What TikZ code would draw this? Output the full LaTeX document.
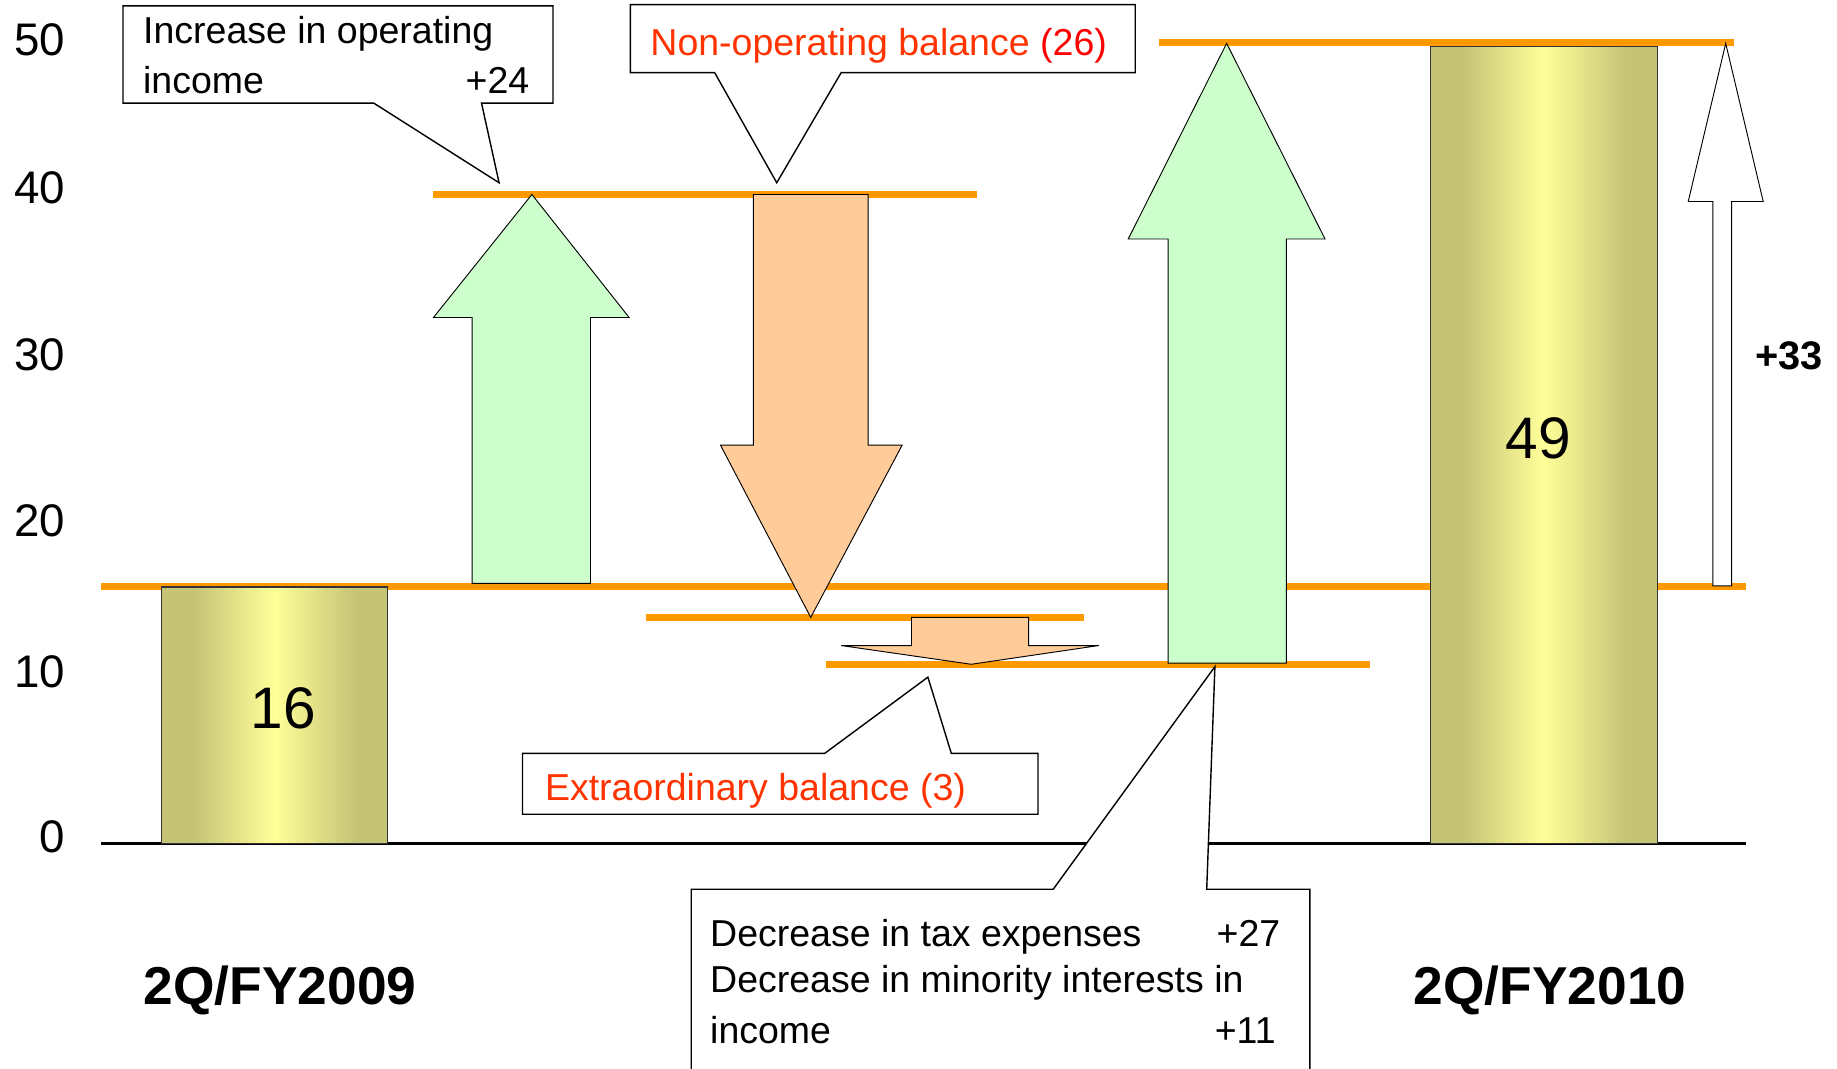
\documentclass[tikz,border=0pt]{standalone}
\usepackage{fontspec}
\setmainfont{Liberation Sans}
\definecolor{lvorange}{RGB}{255,153,0}
\definecolor{upgreen}{RGB}{204,255,204}
\definecolor{downpeach}{RGB}{255,204,153}
\definecolor{txtorange}{RGB}{255,51,0}
\definecolor{barolive}{RGB}{197,195,118}
\definecolor{baryellow}{RGB}{255,255,153}
\pgfdeclarehorizontalshading{barshade}{100bp}{color(0bp)=(barolive); color(25bp)=(barolive); color(32bp)=(barolive); color(50bp)=(baryellow); color(68bp)=(barolive); color(75bp)=(barolive); color(100bp)=(barolive)}
\begin{document}
\begin{tikzpicture}[x=1pt,y=-1pt,
  lvline/.style={draw=lvorange,line width=6pt},
  axisline/.style={draw=black,line width=2.2pt},
  barbox/.style={shading=barshade,draw=black!80,line width=1pt},
  uparrow/.style={fill=upgreen,draw=black,line width=0.8pt,line join=miter},
  downarrow/.style={fill=downpeach,draw=black,line width=0.8pt,line join=miter},
  hollowarrow/.style={fill=white,draw=black,line width=0.8pt,line join=miter},
  callout/.style={fill=white,draw=black,line width=1.2pt,line join=miter},
  txt/.style={font=\fontsize{32}{41}\selectfont,inner sep=0pt},
  axlab/.style={font=\fontsize{39}{45}\selectfont,inner sep=0pt,anchor=base east},
  barlab/.style={font=\fontsize{50}{56}\selectfont,inner sep=0pt,anchor=base},
  catlab/.style={font=\fontsize{45.5}{50}\selectfont\bfseries,inner sep=0pt,anchor=base}]
\useasboundingbox (0,0) rectangle (1568,912);
\clip (0,0) rectangle (1568,912);

% level lines
\draw[lvline] (989,36.5) -- (1480,36.5);
\draw[lvline] (370,166) -- (834,166);
\draw[lvline] (86,501) -- (1490,501);
\draw[lvline] (551,527) -- (925,527);
\draw[lvline] (705,567) -- (1169,567);

% baseline
\draw[axisline] (86,720) -- (1490,720);

% bars
\draw[barbox] (138,501) rectangle (331,720);
\draw[barbox] (1221,40) rectangle (1415,720);

% change arrows
\draw[uparrow] (403,498) -- (403,271) -- (370,271) -- (454,166) -- (537,271) -- (504,271) -- (504,498) -- cycle;
\draw[downarrow] (643,166) -- (741,166) -- (741,380) -- (770,380) -- (692,527) -- (615,380) -- (643,380) -- cycle;
\draw[downarrow] (778,527) -- (878,527) -- (878,551) -- (938,551) -- (829,567) -- (718,551) -- (778,551) -- cycle;
\draw[uparrow] (997,566) -- (997,204) -- (963,204) -- (1047,37) -- (1131,204) -- (1098,204) -- (1098,566) -- cycle;
\draw[hollowarrow] (1462,500) -- (1462,172) -- (1441,172) -- (1473,37) -- (1505,172) -- (1478,172) -- (1478,500) -- cycle;

% callouts
\draw[callout] (105,5) -- (472,5) -- (472,88) -- (411,88) -- (426,156) -- (319,88) -- (105,88) -- cycle;
\draw[callout] (538,4) -- (969,4) -- (969,62) -- (718,62) -- (663,156) -- (610,62) -- (538,62) -- cycle;
\draw[callout] (446,643) -- (704,643) -- (792,578) -- (812,643) -- (886,643) -- (886,695) -- (446,695) -- cycle;
\draw[callout] (590,759) -- (899,759) -- (1037,569) -- (1030,759) -- (1118,759) -- (1118,930) -- (590,930) -- cycle;

% axis labels
\node[axlab] (y50) at (56,47) {50};
\node[axlab] (y40) at (56,174) {40};
\node[axlab] (y30) at (56,316) {30};
\node[axlab] (y20) at (56,458) {20};
\node[axlab] (y10) at (56,587) {10};
\node[axlab] (y0) at (56,728) {0};

% bar values
\node[barlab] (v16) at (242,622) {16};
\node[barlab] (v49) at (1313,391) {49};

% categories
\node[catlab] (c09) at (239,857) {2Q/FY2009};
\node[catlab] (c10) at (1323,857) {2Q/FY2010};

% total change
\node[font=\fontsize{34}{40}\selectfont\bfseries,inner sep=0pt,anchor=base west] (tot) at (1498,315) {+33};

% callout texts
\node[txt,anchor=base west] (op1) at (122,37) {Increase in operating};
\node[txt,anchor=base west] (op2) at (122,80) {income};
\node[txt,anchor=base east] (op3) at (452,80) {+24};
\node[txt,anchor=base west,text=txtorange] (nonop) at (555,47) {Non-operating balance \textcolor{red}{(26)}};
\node[txt,anchor=base west,text=txtorange] (extra) at (465,683) {Extraordinary balance (3)};
\node[txt,anchor=base west] (tax1) at (606,808) {Decrease in tax expenses};
\node[txt,anchor=base east] (tax2) at (1093,808) {+27};
\node[txt,anchor=base west] (min1) at (606,847) {Decrease in minority interests in};
\node[txt,anchor=base west] (min2) at (606,891) {income};
\node[txt,anchor=base east] (min3) at (1089,891) {+11};
\end{tikzpicture}
\end{document}
